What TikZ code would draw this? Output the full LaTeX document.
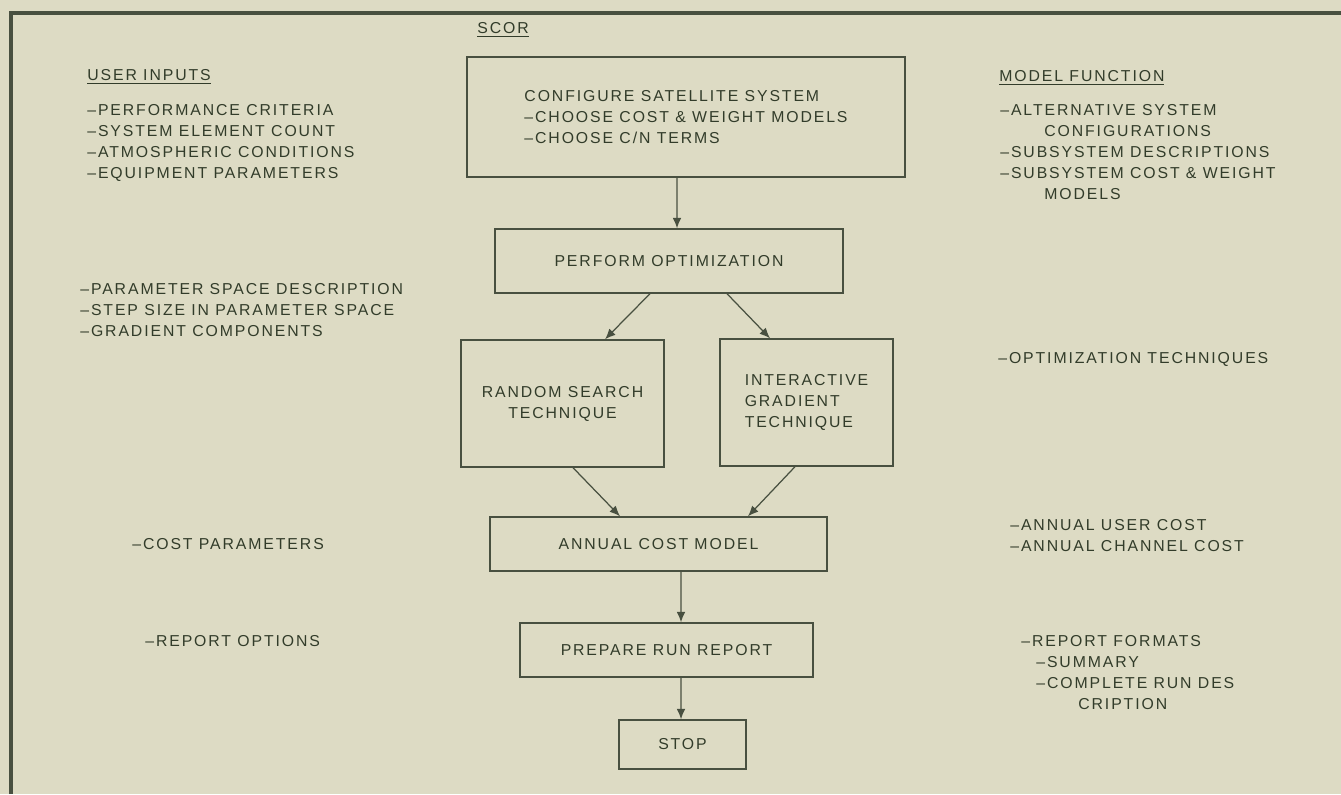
\documentclass[tikz,border=0pt]{standalone}
\usepackage{fontspec}
\setmainfont{Liberation Sans}[LetterSpace=12]
\usepackage{tikz}
\usetikzlibrary{arrows.meta}

\definecolor{paper}{RGB}{221,219,196}
\definecolor{ink}{RGB}{50,60,42}
\definecolor{rule}{RGB}{72,80,64}

\tikzset{
  box/.style={draw=rule, line width=0.8pt, rectangle, inner sep=0pt, align=center, text=ink},
  note/.style={anchor=north west, align=left, inner sep=0pt, text=ink},
  flow/.style={draw=rule, line width=0.7pt, -{Latex[length=6pt,width=5pt]}},
}

\begin{document}
\begin{tikzpicture}[x=0.02cm, y=-0.02cm, font=\fontsize{9}{11.95}\selectfont]
        \useasboundingbox[fill=paper] (0,0) rectangle (1341,794);
        \draw[rule, line width=1.9pt] (11,794) -- (11,13) -- (1341,13);

        % program blocks
        \node[box, align=left, minimum width=8.76cm, minimum height=2.4cm] (config) at (686,117)
            {CONFIGURE SATELLITE SYSTEM\\–CHOOSE COST \& WEIGHT MODELS\\–CHOOSE C/N TERMS};
        \node[box, minimum width=6.96cm, minimum height=1.28cm] (optim) at (669,261) {PERFORM OPTIMIZATION};
        \node[box, minimum width=4.06cm, minimum height=2.54cm] (random) at (562.5,403.5) {RANDOM SEARCH\\TECHNIQUE};
        \node[box, align=left, minimum width=3.46cm, minimum height=2.54cm] (gradient) at (806.5,402.5)
            {INTERACTIVE\\GRADIENT\\TECHNIQUE};
        \node[box, minimum width=6.74cm, minimum height=1.08cm] (annual) at (658.5,544) {ANNUAL COST MODEL};
        \node[box, minimum width=5.86cm, minimum height=1.08cm] (report) at (666.5,650) {PREPARE RUN REPORT};
        \node[box, minimum width=2.54cm, minimum height=0.98cm] (stop) at (682.5,744.5) {STOP};

        \draw[flow] ([xshift=-0.18cm]config.south) -- ([xshift=0.16cm]optim.north);
        \draw[flow] ([xshift=-0.38cm]optim.south) -- ([xshift=0.85cm]random.north);
        \draw[flow] ([xshift=1.16cm]optim.south) -- ([xshift=-0.73cm]gradient.north);
        \draw[flow] ([xshift=0.21cm]random.south) -- ([xshift=-0.77cm]annual.north);
        \draw[flow] ([xshift=-0.23cm]gradient.south) -- ([xshift=1.79cm]annual.north);
        \draw[flow] ([xshift=0.45cm]annual.south) -- ([xshift=0.29cm]report.north);
        \draw[flow] ([xshift=0.29cm]report.south) -- ([xshift=-0.03cm]stop.north);

        % user inputs
        \node[note] (scor) at (477,22.5) {\underline{SCOR}};
        \node[note] (userhead) at (87,69.5) {\underline{USER INPUTS}};
        \node[note] (userlist) at (87,104.5)
            {–PERFORMANCE CRITERIA\\–SYSTEM ELEMENT COUNT\\–ATMOSPHERIC CONDITIONS\\–EQUIPMENT PARAMETERS};
        \node[note] (paramlist) at (80,283.5)
            {–PARAMETER SPACE DESCRIPTION\\–STEP SIZE IN PARAMETER SPACE\\–GRADIENT COMPONENTS};
        \node[note] (costparam) at (132,538.5) {–COST PARAMETERS};
        \node[note] (reportopt) at (145,635.5) {–REPORT OPTIONS};

        % model function
        \node[note] (modelhead) at (999,70.5) {\underline{MODEL FUNCTION}};
        \node[note] (modellist) at (1000,104.5)
            {–ALTERNATIVE SYSTEM\\\hspace*{0.88cm}CONFIGURATIONS\\–SUBSYSTEM DESCRIPTIONS\\–SUBSYSTEM COST \& WEIGHT\\\hspace*{0.88cm}MODELS};
        \node[note] (techlist) at (998,352.5) {–OPTIMIZATION TECHNIQUES};
        \node[note] (costlist) at (1010,519.5) {–ANNUAL USER COST\\–ANNUAL CHANNEL COST};
        \node[note] (formatlist) at (1021,635.5)
            {–REPORT FORMATS\\\hspace*{0.3cm}–SUMMARY\\\hspace*{0.3cm}–COMPLETE RUN DES\\\hspace*{1.14cm}CRIPTION};
\end{tikzpicture}
\end{document}
